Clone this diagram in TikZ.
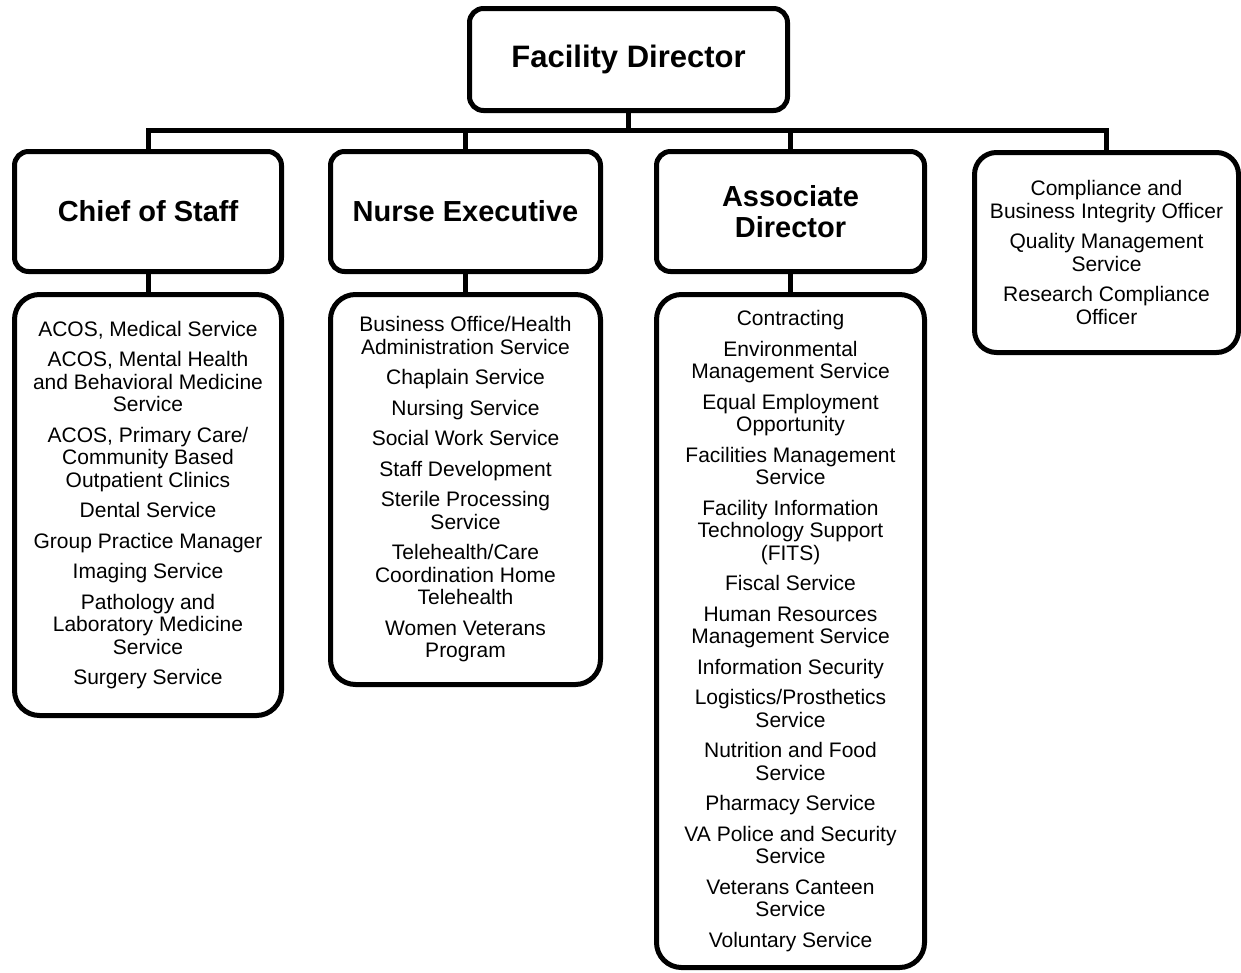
\documentclass[tikz,border=0pt]{standalone}
\usepackage{fontspec}
\setmainfont{Liberation Sans}
\begin{document}
\begin{tikzpicture}[x=1pt,y=-1pt,
  box/.style={draw=black,line width=5pt,fill=white,inner sep=0pt,align=center},
  headbox/.style={box,rounded corners=14pt,font=\bfseries\fontsize{29}{31}\selectfont},
  listbox/.style={box,rounded corners=25pt,font=\fontsize{21}{22.5}\selectfont},
  link/.style={draw=black,line width=5pt}]
\useasboundingbox (0,0) rectangle (1241,972);
% top
\node[headbox,font=\bfseries\fontsize{31}{33}\selectfont,minimum width=318pt,minimum height=102pt] (fd) at (628.5,59.5) {Facility Director};
% second level
\node[headbox,minimum width=267pt,minimum height=120pt] (cos) at (148,211.5) {Chief of Staff};
\node[headbox,minimum width=270pt,minimum height=120pt] (ne) at (465.5,211.5) {Nurse Executive};
\node[headbox,minimum width=268pt,minimum height=120pt] (ad) at (790.5,211.5) {Associate\\Director};
\node[listbox,rounded corners=22pt,minimum width=264pt,minimum height=200pt] (comp) at (1106.5,252.5)
 {Compliance and\\Business Integrity Officer\\[8pt]Quality Management\\Service\\[8pt]Research Compliance\\Officer};
% lists
\node[listbox,minimum width=267pt,minimum height=421pt] (cosl) at (148,505)
 {ACOS, Medical Service\\[8pt]
  ACOS, Mental Health\\and Behavioral Medicine\\Service\\[8pt]
  ACOS, Primary Care/\\Community Based\\Outpatient Clinics\\[8pt]
  Dental Service\\[8pt]
  Group Practice Manager\\[8pt]
  Imaging Service\\[8pt]
  Pathology and\\Laboratory Medicine\\Service\\[8pt]
  Surgery Service};
\node[listbox,minimum width=270pt,minimum height=390pt] (nel) at (465.5,489.5)
 {Business Office/Health\\Administration Service\\[8pt]
  Chaplain Service\\[8pt]
  Nursing Service\\[8pt]
  Social Work Service\\[8pt]
  Staff Development\\[8pt]
  Sterile Processing\\Service\\[8pt]
  Telehealth/Care\\Coordination Home\\Telehealth\\[8pt]
  Women Veterans\\Program};
\node[listbox,minimum width=268pt,minimum height=673pt] (adl) at (790.5,631)
 {Contracting\\[8pt]
  Environmental\\Management Service\\[8pt]
  Equal Employment\\Opportunity\\[8pt]
  Facilities Management\\Service\\[8pt]
  Facility Information\\Technology Support\\(FITS)\\[8pt]
  Fiscal Service\\[8pt]
  Human Resources\\Management Service\\[8pt]
  Information Security\\[8pt]
  Logistics/Prosthetics\\Service\\[8pt]
  Nutrition and Food\\Service\\[8pt]
  Pharmacy Service\\[8pt]
  VA Police and Security\\Service\\[8pt]
  Veterans Canteen\\Service\\[8pt]
  Voluntary Service};
% connectors
\coordinate (bus) at (628.5,130.5);
\draw[link] (fd.south) -- (bus);
\draw[link] (cos.north) |- (bus) -| (comp.north);
\draw[link] (ne.north) -- (ne.north |- bus);
\draw[link] (ad.north) -- (ad.north |- bus);
\draw[link] (cos.south) -- (cosl.north);
\draw[link] (ne.south) -- (nel.north);
\draw[link] (ad.south) -- (adl.north);
\end{tikzpicture}
\end{document}
